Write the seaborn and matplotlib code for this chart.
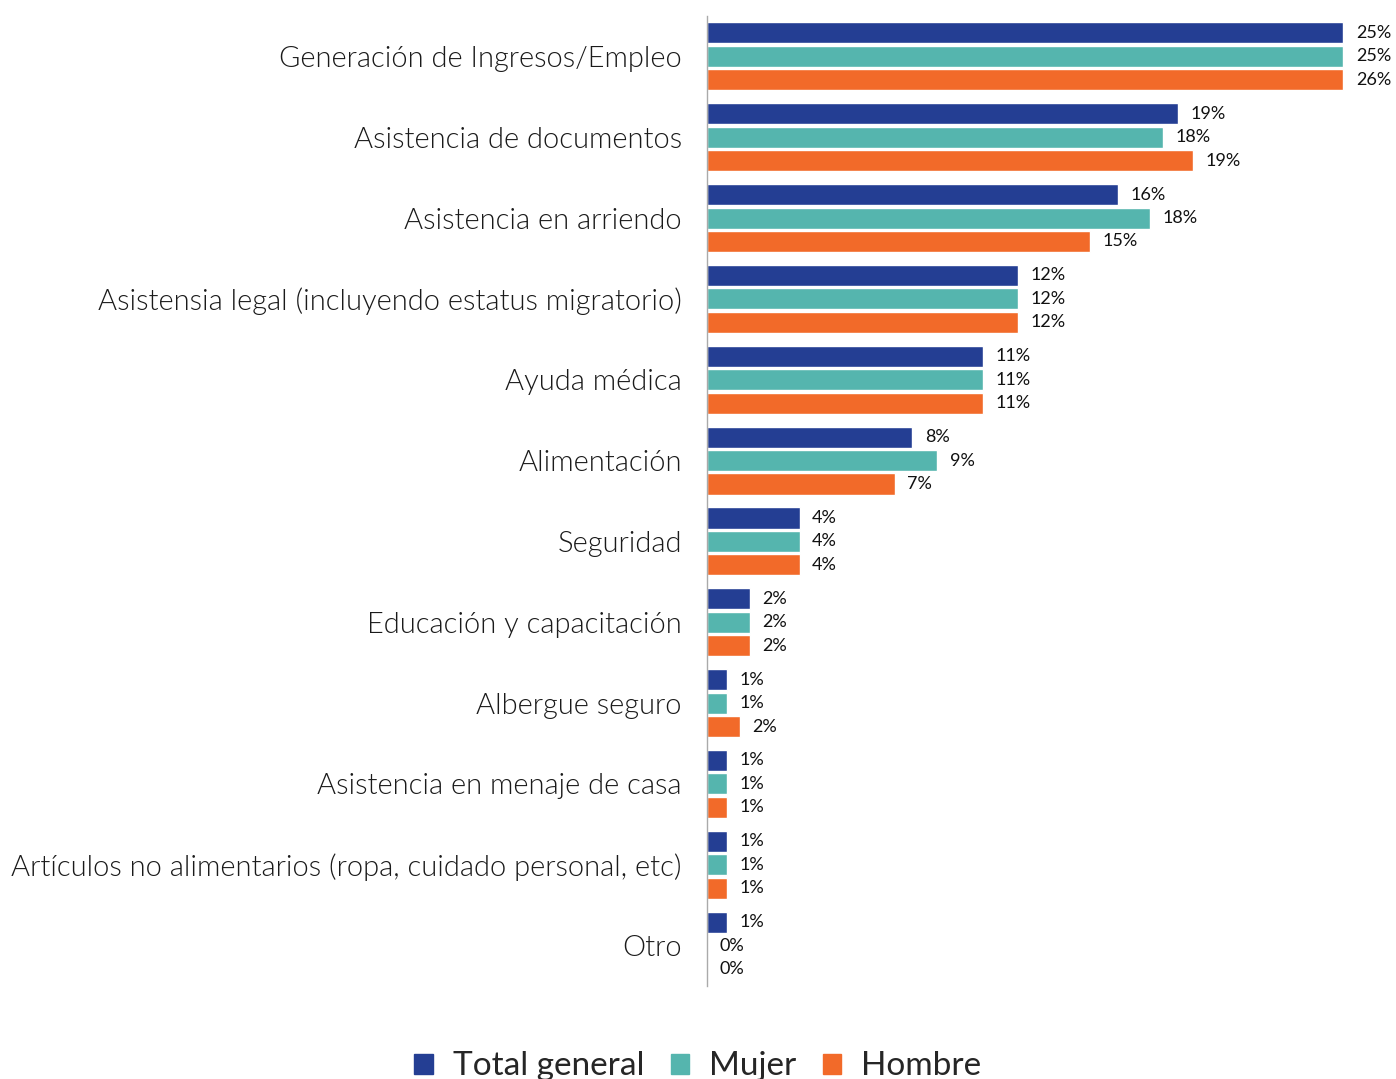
import matplotlib
matplotlib.use("Agg")
import matplotlib.pyplot as plt
import pandas as pd
import seaborn as sns

categories = [
    "Generación de Ingresos/Empleo",
    "Asistencia de documentos",
    "Asistencia en arriendo",
    "Asistensia legal (incluyendo estatus migratorio)",
    "Ayuda médica",
    "Alimentación",
    "Seguridad",
    "Educación y capacitación",
    "Albergue seguro",
    "Asistencia en menaje de casa",
    "Artículos no alimentarios (ropa, cuidado personal, etc)",
    "Otro",
]
series = ["Total general", "Mujer", "Hombre"]

# percentages (bar lengths)
total = [25.4, 18.8, 16.4, 12.4, 11.0, 8.2, 3.7, 1.7, 0.8, 0.8, 0.8, 0.8]
mujer = [25.4, 18.2, 17.7, 12.4, 11.0, 9.2, 3.7, 1.7, 0.8, 0.8, 0.8, 0.0]
hombre = [25.4, 19.4, 15.3, 12.4, 11.0, 7.5, 3.7, 1.7, 1.3, 0.8, 0.8, 0.0]
# labels as printed on the chart
total_lbl = [25, 19, 16, 12, 11, 8, 4, 2, 1, 1, 1, 1]
mujer_lbl = [25, 18, 18, 12, 11, 9, 4, 2, 1, 1, 1, 0]
hombre_lbl = [26, 19, 15, 12, 11, 7, 4, 2, 2, 1, 1, 0]

colors = ["#243E93", "#55B5AE", "#F26A29"]

df = pd.DataFrame({
    "categoria": categories * 3,
    "serie": [s for s in series for _ in categories],
    "valor": total + mujer + hombre,
})

sns.set_theme(style="white")
plt.rcParams["font.family"] = ["Lato", "DejaVu Sans"]

fig = plt.figure(figsize=(13.96, 10.79), dpi=100)
ax = fig.add_axes([0.5064, 0.0862, 0.49, 0.899])

sns.barplot(data=df, y="categoria", x="valor", hue="serie", order=categories,
            hue_order=series, palette=colors, orient="h", width=0.87, gap=0.1,
            saturation=1, ax=ax, legend=False)

for cont, lbls in zip(ax.containers, [total_lbl, mujer_lbl, hombre_lbl]):
    ax.bar_label(cont, labels=[f"{v}%" for v in lbls], padding=9, fontsize=13,
                 color="#111111")

ax.set_xlim(0, 27.3)
ax.set_ylim(11.5, -0.5)
ax.set_xlabel("")
ax.set_ylabel("")
ax.set_xticks([])
ax.tick_params(axis="y", length=0, pad=18)
for lab in ax.get_yticklabels():
    lab.set_fontsize(21)
    lab.set_fontweight(300)
    lab.set_color("#1a1a1a")
for s in ["top", "right", "bottom"]:
    ax.spines[s].set_visible(False)
ax.spines["left"].set_color("#AAAAAA")
ax.spines["left"].set_linewidth(1)

handles = [plt.Rectangle((0, 0), 1, 1, color=c) for c in colors]
fig.legend(handles, series, loc="lower center", ncol=3, frameon=False,
           fontsize=24, handlelength=0.55, handleheight=0.55, handletextpad=0.6,
           columnspacing=0.8, bbox_to_anchor=(0.5, -0.03))

fig.savefig("out.png", dpi=100)
